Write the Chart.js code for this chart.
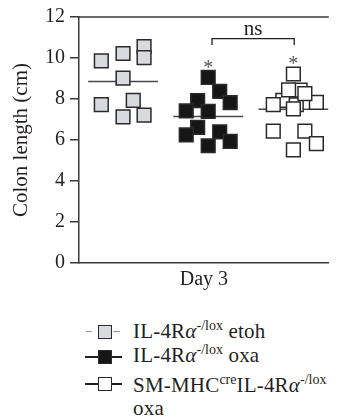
<!DOCTYPE html>
<html>
<head>
<meta charset="utf-8">
<script src="https://cdn.jsdelivr.net/npm/chart.js@4.4.1/dist/chart.umd.min.js"></script>
<style>
  body { margin: 0; background: #fff; }
  #wrap { position: relative; width: 340px; height: 420px; overflow: hidden; }
  #chart { position: absolute; left: 0; top: 0; }
  .row {
    position: absolute; left: 133px; white-space: nowrap;
    font-family: "Liberation Serif", "DejaVu Serif", serif;
    font-size: 21px; line-height: 20px; color: #231f20; letter-spacing: 0.2px;
  }
  .row sup { font-size: 14px; vertical-align: baseline; position: relative; top: -0.55em; letter-spacing: 0; }
  .mark { position: absolute; left: 85px; width: 37px; height: 13px; }
  .mark .ln { position: absolute; left: 0; right: 0; top: 6px; height: 1.5px; background: #231f20; }
  .mark .dash { position: absolute; top: 6px; height: 1px; background: #999; }
  .mark .sq { position: absolute; left: 13px; top: 0; width: 14px; height: 14px; box-sizing: border-box; border: 1.5px solid #2a2a2a; }
</style>
</head>
<body>
<div id="wrap">
  <canvas id="chart" width="340" height="300"></canvas>

  <div class="mark" style="top:325px"><div class="dash" style="left:1px;width:6px"></div><div class="dash" style="left:28px;width:7px"></div><div class="sq" style="background:#d9dadf"></div></div>
  <div class="row" style="top:321px">IL-4R<i>α</i><sup>-/lox</sup> etoh</div>

  <div class="mark" style="top:350px"><div class="ln"></div><div class="sq" style="background:#161616"></div></div>
  <div class="row" style="top:345px">IL-4R<i>α</i><sup>-/lox</sup> oxa</div>

  <div class="mark" style="top:377px"><div class="ln"></div><div class="sq" style="background:#fff"></div></div>
  <div class="row" style="top:375px">SM-MHC<sup>cre</sup>IL-4R<i>α</i><sup>-/lox</sup></div>
  <div class="row" style="top:398px">oxa</div>
</div>

<script>
// values (cm); dx = horizontal jitter inside a group
const groupNames = ['IL-4Rα-/lox etoh', 'IL-4Rα-/lox oxa', 'SM-MHCcreIL-4Rα-/lox oxa'];
const groupPos = [1, 2, 3];

const etohY  = [9.86, 10.22, 10.55, 10.02, 9.02, 7.73, 7.93, 7.13, 7.21];
const etohDx = [-0.255, 0, 0.247, 0.247, 0, -0.255, 0.12, 0, 0.247];

const oxaY  = [9.05, 8.37, 7.82, 7.92, 7.42, 7.40, 6.62, 6.25, 6.40, 5.72, 5.93];
const oxaDx = [0, 0.135, 0.258, -0.124, -0.258, 0, -0.124, -0.258, 0.135, 0, 0.258];

// hidden squares first so the front ones cover them
const smY  = [7.93, 7.72, 8.43, 7.84, 8.45, 8.26, 9.22, 7.73, 7.52, 6.43, 6.43, 5.82, 5.52];
const smDx = [-0.124, 0.034, 0.079, 0.27, -0.056, 0.135, 0, -0.236, 0, -0.236, 0.135, 0.27, 0];

const meanY = [8.85, 7.15, 7.5];
const meanHalf = 0.41;

const yTicks = { min: 0, max: 12, step: 2 };

// significance marks
const starGroups = [1, 2];          // index into groupPos
const starY = [9.69, 9.9];
const nsFrom = 2.045, nsTo = 3.01, nsY = 10.95, nsDrop = 10.64;

const FONT = '"Liberation Serif", "DejaVu Serif", serif';
const INK = '#231f20';
const AXIS = '#3a3a3a';

function pts(g, ys, dxs) {
  return ys.map((y, i) => ({ x: groupPos[g] + dxs[i], y: y }));
}

function squares(g, ys, dxs, fill) {
  return {
    label: groupNames[g],
    data: pts(g, ys, dxs),
    pointStyle: 'rect',
    pointRadius: 9.7,
    pointBackgroundColor: fill,
    pointBorderColor: '#2a2a2a',
    pointBorderWidth: 1.5,
    showLine: false,
    order: 1
  };
}

function meanLine(g) {
  return {
    label: 'mean ' + g,
    data: [{ x: groupPos[g] - meanHalf, y: meanY[g] }, { x: groupPos[g] + meanHalf, y: meanY[g] }],
    showLine: true,
    pointRadius: 0,
    borderColor: '#4a4a4a',
    borderWidth: 1.5,
    order: 2
  };
}

const extras = {
  id: 'extras',
  afterDatasetsDraw(chart) {
    const { ctx, chartArea, scales: { x, y } } = chart;
    ctx.save();
    // top frame line
    ctx.strokeStyle = AXIS;
    ctx.lineWidth = 1.5;
    ctx.beginPath();
    ctx.moveTo(chartArea.left, chartArea.top);
    ctx.lineTo(chartArea.right, chartArea.top);
    ctx.stroke();

    // asterisks
    ctx.font = '20px ' + FONT;
    ctx.fillStyle = '#555';
    ctx.textAlign = 'center';
    ctx.textBaseline = 'alphabetic';
    const m = ctx.measureText('*');
    const mid = (m.actualBoundingBoxAscent - m.actualBoundingBoxDescent) / 2;
    starGroups.forEach((g, i) => {
      ctx.fillText('*', x.getPixelForValue(groupPos[g]), y.getPixelForValue(starY[i]) + mid);
    });

    // ns bracket
    const x0 = x.getPixelForValue(nsFrom), x1 = x.getPixelForValue(nsTo);
    const yl = y.getPixelForValue(nsY), yd = y.getPixelForValue(nsDrop);
    ctx.strokeStyle = INK;
    ctx.lineWidth = 1.3;
    ctx.beginPath();
    ctx.moveTo(x0, yd); ctx.lineTo(x0, yl); ctx.lineTo(x1, yl); ctx.lineTo(x1, yd);
    ctx.stroke();
    ctx.fillStyle = INK;
    ctx.font = '21px ' + FONT;
    ctx.textBaseline = 'alphabetic';
    ctx.fillText('ns', (x0 + x1) / 2, yl - 3.5);
    ctx.restore();
  }
};

new Chart(document.getElementById('chart'), {
  type: 'scatter',
  data: {
    datasets: [
      meanLine(0), meanLine(1), meanLine(2),
      squares(0, etohY, etohDx, '#d9dadf'),
      squares(1, oxaY, oxaDx, '#161616'),
      squares(2, smY, smDx, '#ffffff')
    ]
  },
  options: {
    responsive: false,
    animation: false,
    layout: { padding: { top: 15, right: 0, bottom: 0, left: 0 } },
    plugins: { legend: { display: false }, tooltip: { enabled: false } },
    scales: {
      x: {
        type: 'linear', min: 0.483, max: 3.416,
        ticks: { display: false },
        grid: { display: false },
        border: { display: true, color: AXIS, width: 1.5 },
        title: { display: true, text: 'Day 3', color: INK, font: { family: FONT, size: 20 }, padding: { top: 0, bottom: 8 } },
        afterFit(s) { s.height = 37; }
      },
      y: {
        min: yTicks.min, max: yTicks.max,
        ticks: { stepSize: yTicks.step, color: INK, font: { family: FONT, size: 20 }, padding: 5 },
        grid: { drawOnChartArea: false, tickLength: 9, color: AXIS, lineWidth: 1.5 },
        border: { display: true, color: AXIS, width: 1.5 },
        title: { display: true, text: 'Colon length (cm)', color: INK, font: { family: FONT, size: 21 }, padding: { top: 9, bottom: 0 } },
        afterFit(s) { s.width = 79; }
      }
    }
  },
  plugins: [extras]
});
</script>
</body>
</html>
